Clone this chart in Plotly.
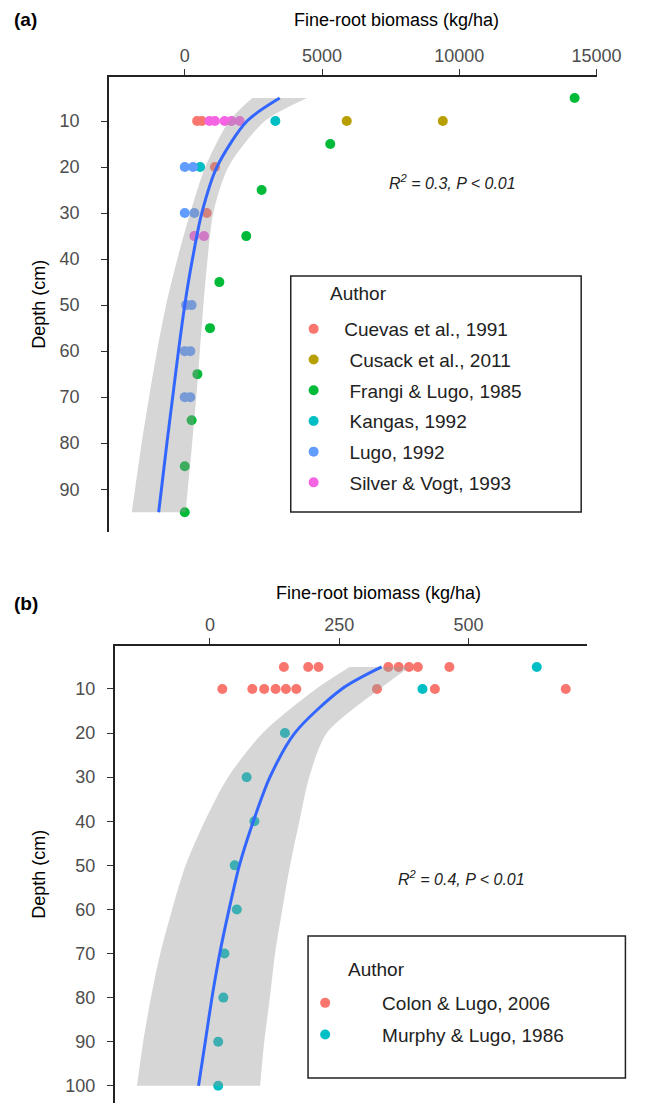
import plotly.graph_objects as go

# page has a default 8px body margin: figure is drawn at (8, 8)
OFF = 8
W, H = 661 - OFF, 1103 - OFF

# ---------------- Panel (a) data ----------------
a_authors = ["Cuevas et al., 1991", "Cusack et al., 2011", "Frangi & Lugo, 1985",
             "Kangas, 1992", "Lugo, 1992", "Silver & Vogt, 1993"]
a_pad = [2, 3, 3, 3, 3, 3]
a_colors = ["#F8766D", "#B79F00", "#00BA38", "#00BFC4", "#619CFF", "#F564E3"]

cuevas_depth = [10, 10, 20, 30]
cuevas_biomass = [450, 620, 1100, 800]
cusack_depth = [10, 10]
cusack_biomass = [5900, 9400]
frangi_depth = [5, 15, 25, 35, 45, 55, 65, 75, 85, 95]
frangi_biomass = [14200, 5300, 2800, 2240, 1260, 920, 460, 250, 0, 0]
kangas_depth = [10, 20]
kangas_biomass = [3300, 560]
lugo_depth = [20, 20, 30, 30, 50, 50, 60, 60, 70, 70]
lugo_biomass = [0, 300, 0, 350, 50, 250, 0, 200, 0, 200]
silver_depth = [10, 10, 10, 10, 10, 35, 35]
silver_biomass = [900, 1100, 1450, 1700, 2000, 350, 700]

a_fit_depth = [5, 10, 20, 30, 40, 50, 60, 70, 80, 90, 95]
a_fit = [3460, 2270, 1170, 620, 280, 0, -230, -440, -650, -850, -950]
a_lower = [2460, 1620, 750, 200, -270, -680, -1010, -1300, -1570, -1810, -1930]
a_upper = [4460, 2920, 1590, 1040, 830, 680, 550, 420, 270, 110, 30]

# ---------------- Panel (b) data ----------------
b_authors = ["Colon & Lugo, 2006", "Murphy & Lugo, 1986"]
b_colors = ["#F8766D", "#00BFC4"]
colon_depth = [5] * 8 + [10] * 9
colon_biomass = [143, 190, 210, 345, 365, 385, 402, 463,
                 24, 82, 105, 127, 147, 167, 323, 435, 688]
murphy_depth = [5, 10, 20, 30, 40, 50, 60, 70, 80, 90, 100]
murphy_biomass = [632, 411, 145, 71, 86, 48, 52, 28, 26, 16, 16]

b_fit_depth = [5, 10, 20, 30, 40, 50, 60, 70, 80, 90, 100]
b_fit = [332, 255, 164, 116, 84, 57, 37, 19, 4, -9, -22]
b_lower = [270, 205, 102, 35, -10, -47, -73, -96, -114, -129, -141]
b_upper = [386, 328, 226, 192, 173, 155, 140, 126, 116, 105, 97]

a_xticks = [0, 5000, 10000, 15000]
a_xtext = ["0", "5000", "10000", "15000"]
a_yticks = [10, 20, 30, 40, 50, 60, 70, 80, 90]
b_xticks = [0, 250, 500]
b_yticks = [10, 20, 30, 40, 50, 60, 70, 80, 90, 100]

FONT = "Liberation Sans, Arial, sans-serif"
BAND = "rgba(153,153,153,0.4)"
LINE = "#3366FF"
MS = 10
NB = "\u00a0"

def px(x):
    return (x - OFF) / W

def py(y):
    return 1 - (y - OFF) / H

fig = go.Figure()

a_sets = [(cuevas_biomass, cuevas_depth), (cusack_biomass, cusack_depth),
          (frangi_biomass, frangi_depth), (kangas_biomass, kangas_depth),
          (lugo_biomass, lugo_depth), (silver_biomass, silver_depth)]
for name, pad, col, (xs, ys) in zip(a_authors, a_pad, a_colors, a_sets):
    fig.add_trace(go.Scatter(x=xs, y=ys, mode="markers", name=NB * pad + name,
                             marker=dict(color=col, size=MS),
                             xaxis="x", yaxis="y", legend="legend",
                             legendgroup=name))

fig.add_trace(go.Scatter(x=a_lower, y=a_fit_depth, mode="lines",
                         line=dict(width=0, shape="spline", smoothing=0.8),
                         showlegend=False, xaxis="x", yaxis="y", hoverinfo="skip"))
fig.add_trace(go.Scatter(x=a_upper, y=a_fit_depth, mode="lines", fill="tonextx",
                         fillcolor=BAND, line=dict(width=0, shape="spline", smoothing=0.8),
                         showlegend=False, xaxis="x", yaxis="y", hoverinfo="skip"))
fig.add_trace(go.Scatter(x=a_fit, y=a_fit_depth, mode="lines",
                         line=dict(color=LINE, width=3, shape="spline", smoothing=0.8),
                         showlegend=False, xaxis="x", yaxis="y"))

b_sets = [(colon_biomass, colon_depth), (murphy_biomass, murphy_depth)]
for name, col, (xs, ys) in zip(b_authors, b_colors, b_sets):
    fig.add_trace(go.Scatter(x=xs, y=ys, mode="markers", name=NB * 7 + name,
                             marker=dict(color=col, size=MS),
                             xaxis="x2", yaxis="y2", legend="legend2",
                             legendgroup=name))

fig.add_trace(go.Scatter(x=b_lower, y=b_fit_depth, mode="lines",
                         line=dict(width=0, shape="spline", smoothing=0.8),
                         showlegend=False, xaxis="x2", yaxis="y2", hoverinfo="skip"))
fig.add_trace(go.Scatter(x=b_upper, y=b_fit_depth, mode="lines", fill="tonextx",
                         fillcolor=BAND, line=dict(width=0, shape="spline", smoothing=0.8),
                         showlegend=False, xaxis="x2", yaxis="y2", hoverinfo="skip"))
fig.add_trace(go.Scatter(x=b_fit, y=b_fit_depth, mode="lines",
                         line=dict(color=LINE, width=3, shape="spline", smoothing=0.8),
                         showlegend=False, xaxis="x2", yaxis="y2"))

axis_common = dict(showgrid=False, zeroline=False, showline=True,
                   linecolor="#222222", linewidth=1.5, ticks="outside",
                   ticklen=6, tickcolor="#333333", tickwidth=1.2,
                   tickfont=dict(family=FONT, size=18, color="#4D4D4D"),
                   mirror=False, fixedrange=True)

legend_font = dict(family=FONT, size=19, color="#222222")

fig.update_layout(
    width=W, height=H,
    margin=dict(l=0, r=0, t=0, b=0),
    paper_bgcolor="white", plot_bgcolor="white",
    font=dict(family=FONT, color="black"),
    xaxis=dict(domain=[px(113), px(620)], range=[-2760, 15000], side="top",
               anchor="y", tickvals=a_xticks, ticktext=a_xtext, **axis_common),
    yaxis=dict(domain=[py(532), py(77)], range=[99.3, 0.43], anchor="x",
               tickvals=a_yticks, ticklabelstandoff=18, **axis_common),
    xaxis2=dict(domain=[px(119), px(610)], range=[-184, 729], side="top",
                anchor="y2", tickvals=b_xticks, **axis_common),
    yaxis2=dict(domain=[py(1103), py(646)], range=[103.9, 0.25], anchor="x2",
                tickvals=b_yticks, ticklabelstandoff=8, **axis_common),
    legend=dict(x=px(305), y=py(310), xanchor="left", yanchor="top",
                bgcolor="rgba(0,0,0,0)", borderwidth=0, font=legend_font,
                tracegroupgap=3, traceorder="grouped"),
    legend2=dict(x=px(317), y=py(984), xanchor="left", yanchor="top",
                 bgcolor="rgba(0,0,0,0)", borderwidth=0, font=legend_font,
                 tracegroupgap=4, traceorder="grouped"),
    shapes=[
        dict(type="rect", xref="paper", yref="paper", x0=px(302), x1=px(604),
             y0=py(512), y1=py(276), line=dict(color="#222222", width=1.5)),
        dict(type="rect", xref="paper", yref="paper", x0=px(320), x1=px(650),
             y0=py(1078), y1=py(936), line=dict(color="#222222", width=1.5)),
    ],
    annotations=[
        dict(text="<b>(a)</b>", x=px(12), y=py(19), xref="paper", yref="paper",
             xanchor="left", yanchor="middle", showarrow=False,
             font=dict(family=FONT, size=19, color="black")),
        dict(text="Fine-root biomass (kg/ha)", x=px(412), y=py(20), xref="paper",
             yref="paper", xanchor="center", yanchor="middle", showarrow=False,
             font=dict(family=FONT, size=18, color="black")),
        dict(text="Depth (cm)", x=px(40), y=py(304), xref="paper", yref="paper",
             textangle=-90, xanchor="center", yanchor="middle", showarrow=False,
             font=dict(family=FONT, size=18, color="black")),
        dict(text="<i>R<sup>2</sup> = 0.3, P < 0.01</i>", x=px(470), y=py(182),
             xref="paper", yref="paper", xanchor="center", yanchor="middle",
             showarrow=False, font=dict(family=FONT, size=16, color="#222222")),
        dict(text="Author", x=px(341), y=py(294), xref="paper", yref="paper",
             xanchor="left", yanchor="middle", showarrow=False, font=legend_font),
        dict(text="<b>(b)</b>", x=px(12), y=py(604), xref="paper", yref="paper",
             xanchor="left", yanchor="middle", showarrow=False,
             font=dict(family=FONT, size=19, color="black")),
        dict(text="Fine-root biomass (kg/ha)", x=px(393), y=py(593), xref="paper",
             yref="paper", xanchor="center", yanchor="middle", showarrow=False,
             font=dict(family=FONT, size=18, color="black")),
        dict(text="Depth (cm)", x=px(40), y=py(874), xref="paper", yref="paper",
             textangle=-90, xanchor="center", yanchor="middle", showarrow=False,
             font=dict(family=FONT, size=18, color="black")),
        dict(text="<i>R<sup>2</sup> = 0.4, P < 0.01</i>", x=px(480), y=py(878),
             xref="paper", yref="paper", xanchor="center", yanchor="middle",
             showarrow=False, font=dict(family=FONT, size=16, color="#222222")),
        dict(text="Author", x=px(359), y=py(969), xref="paper", yref="paper",
             xanchor="left", yanchor="middle", showarrow=False, font=legend_font),
    ],
)

fig.write_html("out.html")
